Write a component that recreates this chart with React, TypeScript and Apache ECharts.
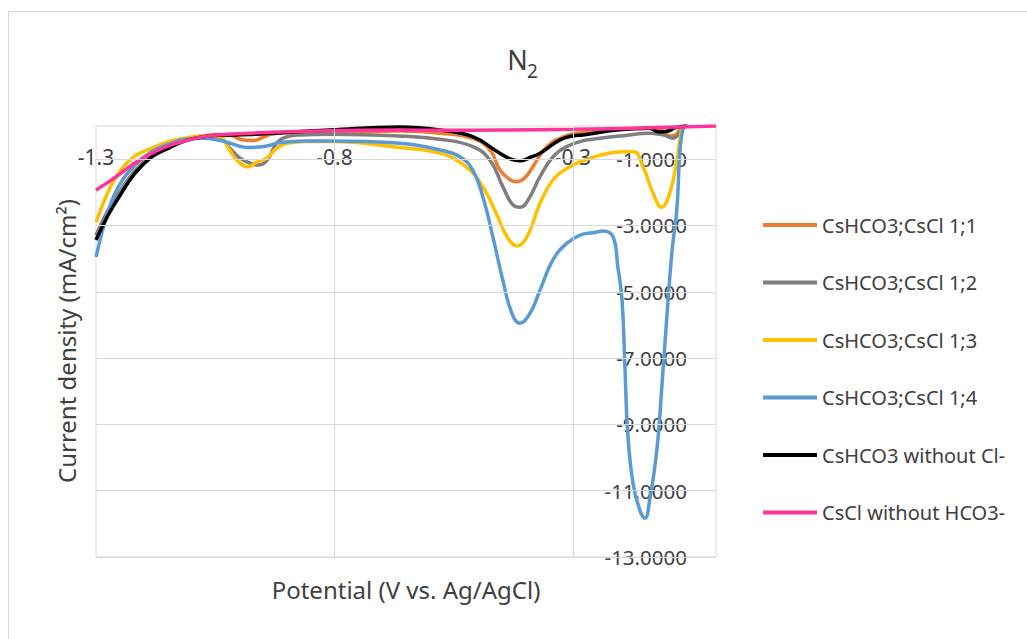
import React, { useEffect, useRef } from "react";
import * as echarts from "echarts";

const FONT = "'Noto Sans', 'Open Sans', sans-serif";

// Axis tick labels shown in the reference
const xTicks: number[] = [-1.3, -0.8, -0.3];
const yTicks: number[] = [-1, -3, -5, -7, -9, -11, -13];

// Series names
const names: string[] = [
  "CsHCO3;CsCl 1;1",
  "CsHCO3;CsCl 1;2",
  "CsHCO3;CsCl 1;3",
  "CsHCO3;CsCl 1;4",
  "CsHCO3 without Cl-",
  "CsCl without HCO3-",
];
const colors: string[] = ["#ED7D31", "#7F7F7F", "#FFC000", "#5B9BD5", "#000000", "#FF3399"];

// [potential (V), current density (mA/cm2)]
const ratio11: [number, number][] = [
  [-1.3, -3.3], [-1.275, -2.55], [-1.253, -2.05], [-1.218, -1.35], [-1.183, -0.9], [-1.148, -0.62],
  [-1.113, -0.42], [-1.078, -0.31], [-1.044, -0.26], [-1.019, -0.27], [-0.998, -0.4], [-0.971, -0.44],
  [-0.95, -0.34], [-0.93, -0.24], [-0.9, -0.21], [-0.809, -0.18], [-0.663, -0.15], [-0.579, -0.22],
  [-0.51, -0.37], [-0.474, -0.72], [-0.453, -1.33], [-0.432, -1.62], [-0.417, -1.68], [-0.4, -1.55],
  [-0.384, -1.23], [-0.365, -0.8], [-0.345, -0.5], [-0.327, -0.37], [-0.3, -0.24], [-0.25, -0.14],
  [-0.2, -0.09], [-0.14, -0.07], [-0.115, -0.12], [-0.097, -0.3], [-0.085, -0.27], [-0.072, -0.05],
  [-0.06, 0.0],
];

const ratio12: [number, number][] = [
  [-1.3, -3.3], [-1.275, -2.55], [-1.253, -2.05], [-1.218, -1.35], [-1.183, -0.9], [-1.148, -0.62],
  [-1.113, -0.42], [-1.078, -0.32], [-1.044, -0.32], [-1.019, -0.67], [-0.998, -0.97], [-0.975, -1.13],
  [-0.96, -1.18], [-0.941, -1.03], [-0.921, -0.52], [-0.9, -0.33], [-0.87, -0.27], [-0.809, -0.25],
  [-0.663, -0.3], [-0.579, -0.4], [-0.51, -0.62], [-0.474, -1.03], [-0.447, -1.83], [-0.426, -2.38],
  [-0.411, -2.45], [-0.394, -2.23], [-0.369, -1.53], [-0.342, -0.93], [-0.313, -0.62], [-0.28, -0.45],
  [-0.243, -0.37], [-0.2, -0.3], [-0.139, -0.22], [-0.11, -0.27], [-0.09, -0.37], [-0.078, -0.25],
  [-0.065, 0.0],
];

const ratio13: [number, number][] = [
  [-1.3, -2.9], [-1.275, -2.0], [-1.253, -1.43], [-1.218, -0.9], [-1.183, -0.67], [-1.148, -0.47],
  [-1.113, -0.37], [-1.078, -0.3], [-1.044, -0.3], [-1.02, -0.72], [-1.005, -1.03], [-0.981, -1.23],
  [-0.962, -1.08], [-0.942, -0.97], [-0.921, -0.67], [-0.9, -0.52], [-0.86, -0.47], [-0.809, -0.47],
  [-0.663, -0.65], [-0.579, -0.82], [-0.524, -1.23], [-0.489, -1.83], [-0.461, -2.63], [-0.438, -3.34],
  [-0.417, -3.62], [-0.396, -3.34], [-0.369, -2.33], [-0.342, -1.63], [-0.313, -1.28], [-0.285, -1.08],
  [-0.243, -0.88], [-0.216, -0.8], [-0.174, -0.77], [-0.153, -1.23], [-0.132, -2.03], [-0.114, -2.45],
  [-0.097, -2.03], [-0.082, -1.03], [-0.072, -0.12], [-0.065, 0.0],
];

const ratio14: [number, number][] = [
  [-1.3, -3.95], [-1.275, -2.6], [-1.253, -1.83], [-1.218, -1.18], [-1.183, -0.77], [-1.148, -0.55],
  [-1.113, -0.4], [-1.078, -0.37], [-1.044, -0.42], [-1.019, -0.52], [-0.981, -0.65], [-0.941, -0.6],
  [-0.914, -0.5], [-0.86, -0.45], [-0.809, -0.45], [-0.663, -0.52], [-0.579, -0.72], [-0.537, -0.93],
  [-0.51, -1.33], [-0.489, -2.13], [-0.468, -3.34], [-0.447, -4.65], [-0.428, -5.65], [-0.411, -5.95],
  [-0.39, -5.65], [-0.369, -4.95], [-0.342, -4.04], [-0.313, -3.54], [-0.285, -3.29], [-0.258, -3.22],
  [-0.237, -3.17], [-0.216, -3.34], [-0.206, -4.24], [-0.197, -5.25], [-0.191, -7.26], [-0.185, -9.27],
  [-0.174, -10.78], [-0.16, -11.58], [-0.149, -11.83], [-0.139, -11.28], [-0.124, -9.77], [-0.113, -7.76],
  [-0.103, -5.75], [-0.092, -3.74], [-0.082, -2.5], [-0.076, -0.82], [-0.07, -0.12], [-0.065, 0.0],
];

const noChloride: [number, number][] = [
  [-1.3, -3.44], [-1.275, -2.7], [-1.253, -2.17], [-1.218, -1.42], [-1.183, -0.93], [-1.148, -0.67],
  [-1.113, -0.45], [-1.078, -0.33], [-1.044, -0.28], [-0.98, -0.26], [-0.91, -0.2], [-0.809, -0.12],
  [-0.663, -0.03], [-0.579, -0.12], [-0.51, -0.32], [-0.459, -0.77], [-0.43, -1.0], [-0.411, -1.05],
  [-0.39, -0.95], [-0.369, -0.82], [-0.327, -0.42], [-0.3, -0.3], [-0.279, -0.27], [-0.208, -0.12],
  [-0.14, -0.07], [-0.12, -0.18], [-0.1, -0.15], [-0.085, -0.05], [-0.06, 0.0],
];

const noBicarbonate: [number, number][] = [
  [-1.3, -1.93], [-1.275, -1.7], [-1.253, -1.48], [-1.218, -1.11], [-1.183, -0.82], [-1.148, -0.6],
  [-1.113, -0.45], [-1.078, -0.33], [-1.044, -0.27], [-0.98, -0.22], [-0.9, -0.17], [-0.809, -0.14],
  [-0.663, -0.12], [-0.579, -0.13], [-0.45, -0.12], [-0.3, -0.1], [-0.15, -0.06], [0.0, 0.0],
];

const seriesData: [number, number][][] = [ratio11, ratio12, ratio13, ratio14, noChloride, noBicarbonate];

const near = (arr: number[], v: number) => arr.some((t) => Math.abs(t - v) < 1e-6);

export default function App() {
  const ref = useRef<HTMLDivElement>(null);

  useEffect(() => {
    document.body.style.margin = "0";
    if (!ref.current) return;
    const chart = echarts.init(ref.current, undefined, { renderer: "svg" });

    const lineSeries = names.map((name, i) => ({
      name,
      type: "line",
      data: seriesData[i],
      showSymbol: false,
      symbol: "none",
      smooth: 0.45,
      z: 3,
      lineStyle: { color: colors[i], width: 3.5 },
      itemStyle: { color: colors[i] },
      emphasis: { disabled: true },
    }));

    const gridSeries = {
      name: "grid",
      type: "line",
      data: [],
      z: 1,
      silent: true,
      markLine: {
        silent: true,
        symbol: ["none", "none"],
        label: { show: false },
        animation: false,
        lineStyle: { color: "#d9d9d9", width: 1, type: "solid" },
        data: [
          ...yTicks.map((v) => ({ yAxis: v })),
          ...xTicks.slice(1).map((v) => ({ xAxis: v })),
        ],
      },
    };

    chart.setOption({
      animation: false,
      backgroundColor: "#ffffff",
      textStyle: { fontFamily: FONT },
      grid: {
        left: 96,
        right: 311,
        top: 126,
        bottom: 82,
        show: true,
        borderColor: "#d9d9d9",
        borderWidth: 1,
      },
      xAxis: {
        type: "value",
        position: "top",
        min: -1.3,
        max: 0,
        interval: 0.1,
        axisLine: { show: false },
        axisTick: { show: false },
        splitLine: { show: false },
        axisLabel: {
          inside: true,
          margin: 20,
          fontSize: 21,
          color: "#404040",
          fontFamily: FONT,
          showMinLabel: true,
          showMaxLabel: true,
          formatter: (v: number) => (near(xTicks, v) ? v.toFixed(1) : ""),
        },
      },
      yAxis: {
        type: "value",
        position: "right",
        min: -13,
        max: 0,
        interval: 1,
        axisLine: { show: false },
        axisTick: { show: false },
        splitLine: { show: false },
        axisLabel: {
          inside: true,
          margin: 29,
          fontSize: 20.5,
          color: "#404040",
          fontFamily: FONT,
          showMinLabel: true,
          showMaxLabel: true,
          formatter: (v: number) => (near(yTicks, v) ? v.toFixed(4) : ""),
        },
      },
      legend: {
        data: names.map((n) => ({ name: n, icon: "rect" })),
        orient: "vertical",
        left: 763,
        top: 213,
        padding: 0,
        itemWidth: 54,
        itemHeight: 4,
        itemGap: 33.5,
        selectedMode: false,
        textStyle: { fontSize: 20, color: "#404040", fontFamily: FONT, lineHeight: 24, padding: [0, 0, 0, 0] },
      },
      graphic: [
        {
          type: "rect",
          silent: true,
          shape: { x: 8.5, y: 11.5, width: 1100, height: 700 },
          style: { fill: "none", stroke: "#d9d9d9", lineWidth: 1 },
        },
        {
          type: "text",
          x: 517.5,
          y: 59,
          style: { text: "N", fontSize: 27, fill: "#404040", fontFamily: FONT, align: "center", verticalAlign: "middle" },
        },
        {
          type: "text",
          x: 532.5,
          y: 71,
          style: { text: "2", fontSize: 19, fill: "#404040", fontFamily: FONT, align: "center", verticalAlign: "middle" },
        },
        {
          type: "text",
          x: 406,
          y: 589,
          style: {
            text: "Potential (V vs. Ag/AgCl)",
            fontSize: 24,
            fill: "#404040",
            fontFamily: FONT,
            align: "center",
            verticalAlign: "middle",
          },
        },
        {
          type: "text",
          x: 66,
          y: 341,
          rotation: Math.PI / 2,
          style: {
            text: "Current density (mA/cm²)",
            fontSize: 24,
            fill: "#404040",
            fontFamily: FONT,
            align: "center",
            verticalAlign: "middle",
          },
        },
      ],
      series: [gridSeries, ...lineSeries],
    });

    return () => {
      chart.dispose();
    };
  }, []);

  return <div ref={ref} style={{ width: 1027, height: 639, overflow: "hidden" }} />;
}
